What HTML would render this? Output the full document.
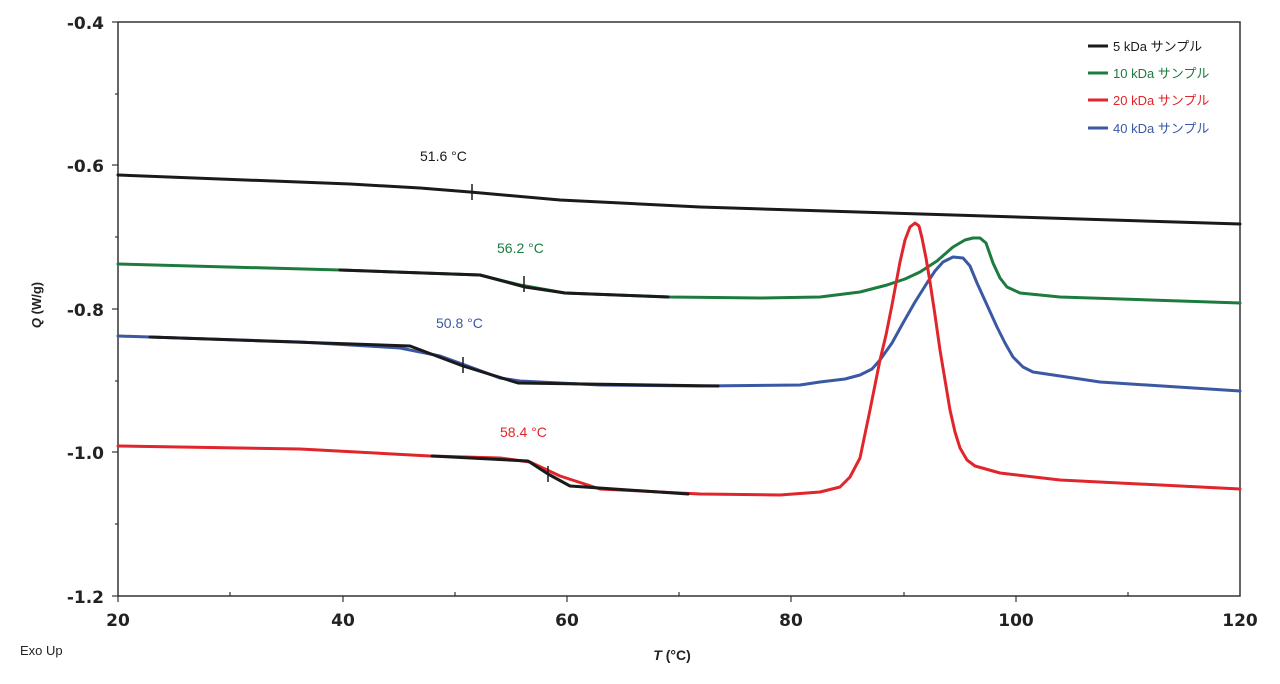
<!DOCTYPE html>
<html><head><meta charset="utf-8"><style>body{margin:0;background:#fff}svg{display:block}</style></head><body>
<svg width="1280" height="684" xmlns="http://www.w3.org/2000/svg" font-family="Liberation Sans, Noto Sans CJK JP, sans-serif">
<rect x="118" y="22" width="1122" height="574" fill="none" stroke="#333" stroke-width="1.5"/>
<g stroke="#333" stroke-width="1.2">
<line x1="112" y1="22" x2="118" y2="22"/><line x1="115" y1="94" x2="118" y2="94"/>
<line x1="112" y1="165" x2="118" y2="165"/><line x1="115" y1="237" x2="118" y2="237"/>
<line x1="112" y1="309" x2="118" y2="309"/><line x1="115" y1="381" x2="118" y2="381"/>
<line x1="112" y1="452" x2="118" y2="452"/><line x1="115" y1="524" x2="118" y2="524"/>
<line x1="112" y1="596" x2="118" y2="596"/>
<line x1="118" y1="596" x2="118" y2="602"/><line x1="230" y1="596" x2="230" y2="592"/>
<line x1="343" y1="596" x2="343" y2="602"/><line x1="455" y1="596" x2="455" y2="592"/>
<line x1="567" y1="596" x2="567" y2="602"/><line x1="679" y1="596" x2="679" y2="592"/>
<line x1="791" y1="596" x2="791" y2="602"/><line x1="904" y1="596" x2="904" y2="592"/>
<line x1="1016" y1="596" x2="1016" y2="602"/><line x1="1128" y1="596" x2="1128" y2="592"/>
</g>
<g font-weight="bold" font-size="17" fill="#222" text-anchor="end" font-family="DejaVu Sans, sans-serif">
<text x="104" y="29">-0.4</text><text x="104" y="172">-0.6</text><text x="104" y="316">-0.8</text>
<text x="104" y="459">-1.0</text><text x="104" y="603">-1.2</text>
</g>
<g font-weight="bold" font-size="17" fill="#222" text-anchor="middle" font-family="DejaVu Sans, sans-serif">
<text x="118" y="626">20</text><text x="343" y="626">40</text><text x="567" y="626">60</text>
<text x="791" y="626">80</text><text x="1016" y="626">100</text><text x="1240" y="626">120</text>
</g>
<text x="672" y="660" font-size="14" text-anchor="middle" font-weight="bold" fill="#222"><tspan font-style="italic">T</tspan> (°C)</text>
<text transform="translate(41,305) rotate(-90)" font-size="13" text-anchor="middle" font-weight="bold" fill="#222"><tspan font-style="italic">Q</tspan> (W/g)</text>
<text x="20" y="655" font-size="13" fill="#222">Exo Up</text>
<g fill="none" stroke-width="3" stroke-linejoin="round" stroke-linecap="round">
<polyline stroke="#1a1a1a" points="118,175 350,184 420,188 470,192 560,200 700,207 1240,224"/>
<polyline stroke="#1e7b3e" points="118,264 340,270 480,275 520,285 565,293 670,297 760,298 820,297 860,292 887,285 905,279 920,272 937,261 953,247 965,240 973,238 980,238 986,243 993,263 1000,278 1007,287 1020,293 1060,297 1240,303"/>
<polyline stroke="#1a1a1a" points="340,270 480,275 525,287 565,293 668,297"/>
<polyline stroke="#3a58a4" points="118,336 300,342 400,348 440,356 465,365 500,378 520,381 600,385 700,386 800,385 820,382 845,379 860,375 872,369 880,360 892,343 903,323 915,302 927,283 935,271 943,262 953,257 963,258 970,266 977,283 987,305 997,327 1005,343 1013,357 1023,367 1033,372 1060,376 1100,382 1240,391"/>
<polyline stroke="#1a1a1a" points="150,337 410,346 463,366 518,383 718,386"/>
<polyline stroke="#e0252b" points="118,446 300,449 430,456 500,458 530,462 560,476 600,489 700,494 780,495 820,492 840,487 850,477 860,458 870,410 880,360 886,335 892,305 900,262 905,240 910,227 915,223 919,226 922,238 926,258 930,282 935,315 940,350 945,380 950,410 955,432 960,448 967,460 975,466 1000,473 1060,480 1240,489"/>
<polyline stroke="#1a1a1a" points="432,456 528,461 548,474 570,486 688,494"/>
</g>
<g stroke="#1a1a1a" stroke-width="1.5">
<line x1="472" y1="184" x2="472" y2="200"/><line x1="524" y1="276" x2="524" y2="292"/>
<line x1="463" y1="357" x2="463" y2="373"/><line x1="548" y1="466" x2="548" y2="482"/>
</g>
<g font-size="14">
<text x="420" y="161" fill="#1a1a1a">51.6 °C</text>
<text x="497" y="253" fill="#1e7b3e">56.2 °C</text>
<text x="436" y="328" fill="#3a58a4">50.8 °C</text>
<text x="500" y="437" fill="#e0252b">58.4 °C</text>
</g>
<g stroke-width="3">
<line x1="1088" y1="46" x2="1108" y2="46" stroke="#1a1a1a"/>
<line x1="1088" y1="73" x2="1108" y2="73" stroke="#1e7b3e"/>
<line x1="1088" y1="100" x2="1108" y2="100" stroke="#e0252b"/>
<line x1="1088" y1="128" x2="1108" y2="128" stroke="#3a58a4"/>
</g>
<g font-size="13">
<text x="1113" y="51" fill="#1a1a1a">5 kDa サンプル</text>
<text x="1113" y="78" fill="#1e7b3e">10 kDa サンプル</text>
<text x="1113" y="105" fill="#e0252b">20 kDa サンプル</text>
<text x="1113" y="133" fill="#3a58a4">40 kDa サンプル</text>
</g>
</svg>
</body></html>
